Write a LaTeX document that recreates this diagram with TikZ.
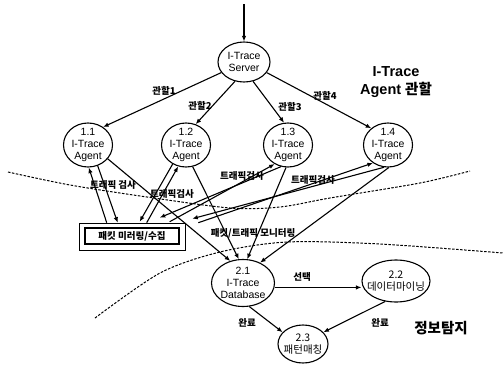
\documentclass[tikz,border=0pt]{standalone}
\usepackage{fontspec}
\setmainfont{Liberation Sans}
\newfontfamily\kr{Noto Sans CJK KR}
\usetikzlibrary{arrows.meta,calc,shapes.geometric}

\begin{document}
\begin{tikzpicture}[>={Latex[length=5.5pt,width=4.5pt]}, x=1pt, y={(0,-1pt)},
    proc/.style={ellipse, draw, line width=1.1pt, inner sep=-1.5pt, align=center,
      font=\fontsize{10.5}{12}\selectfont},
    agent/.style={proc, minimum width=49pt, minimum height=44pt},
    lbl/.style={font=\kr\fontsize{9.5}{10}\selectfont\bfseries, inner sep=1pt},
    flow/.style={->, line width=1.1pt},
    zone/.style={line width=1pt, dash pattern=on 2.5pt off 1.5pt}]

    \useasboundingbox (0,0) rectangle (503,364);

    % server and agents
    \coordinate (in) at (244,4);
    \node[proc, minimum width=52pt, minimum height=40pt] (srv) at (244,62) {I-Trace\\Server};
    \foreach \i/\x in {1/88,2/186,3/288,4/388}{
      \node[agent] (a\i) at (\x,145) {1.\i\\I-Trace\\Agent};
    }

    \draw[flow] (in) -- (srv);
    \foreach \i/\s/\t in {1/205/50, 2/-115/65, 3/-65/100, 4/-25/135}{
      \draw[flow] (srv.\s) -- (a\i.\t);
    }
    \foreach \i/\x/\y in {1/164/91, 2/200/106, 3/290/107, 4/325/96}{
      \node[lbl] at (\x,\y) {관할\i};
    }
    \node[align=center, font=\fontsize{14.5}{18}\selectfont\bfseries] (ttl) at (396,82)
      {I-Trace\\Agent {\kr 관할}};

    % mirroring box
    \node[draw, line width=0.6pt, minimum width=106pt, minimum height=27pt] (frame) at (132,236.5) {};
    \node[draw, line width=1.2pt, minimum width=94pt, minimum height=16pt, inner sep=0pt, lbl] (mirror)
      at (132,236) {패킷 미러링/수집};

    \draw[flow] ([xshift=28pt]frame.north west) -- (a1.-88);
    \draw[flow] (a1.-65) -- ([xshift=39pt]frame.north west);
    \draw[flow] (a2.-125) -- ([xshift=61pt,yshift=1pt]frame.north west);
    \draw[flow] ([xshift=68pt]frame.north west) -- (a2.-110);
    \draw[flow] (a3.-108) -- ([xshift=81pt,yshift=5pt]frame.north west);
    \draw[flow] ([xshift=91pt,yshift=1pt]frame.north west) -- (a3.-125);
    \draw[flow] (a4.-100) -- ([xshift=7pt,yshift=4pt]frame.north east);
    \draw[flow] ([xshift=13pt]frame.north east) -- (a4.-130);

    \node[lbl] at (113,185) {트래픽 검사};
    \node[lbl] at (172,194) {트래픽검사};
    \node[lbl] at (242,176) {트래픽검사};
    \node[lbl] at (313,180) {트래픽검사};

    % detection
    \node[proc, minimum width=63pt, minimum height=47pt] (db) at (243,283) {2.1\\I-Trace\\Database};
    \node[proc, minimum width=68pt, minimum height=42pt, inner xsep=-9pt, inner ysep=3pt,
      font=\kr\fontsize{10.5}{12}\selectfont] (dm) at (396,281) {2.2\\데이터마이닝};
    \node[proc, minimum width=50pt, minimum height=38pt, inner xsep=-4pt, inner ysep=3pt,
      font=\kr\fontsize{10.5}{12}\selectfont] (pm) at (303,344) {2.3\\패턴매칭};

    \draw[flow] (a1.-35) -- (db.120);
    \draw[flow] (a2.-73) -- (db.100);
    \draw[flow] (a3.-95) -- (db.80);
    \draw[flow] (a4.-88) -- (db.50);
    \node[lbl] at (253,233) {패킷/트래픽 모니터링};

    \draw[flow] (db.-8) -- (db.-8 -| dm.west);
    \draw[flow] (db.-75) -- (pm.150);
    \draw[flow] (dm.-118) -- (pm.30);
    \node[lbl] at (302,277) {선택};
    \node[lbl] at (247,323) {완료};
    \node[lbl] at (380,323) {완료};
    \node[lbl, font=\kr\fontsize{14.5}{14}\selectfont\bfseries] at (441,328) {정보탐지};

    % zone borders
    \draw[zone] plot[smooth] coordinates {(8,172) (70,185) (147,197) (230,208) (280,207) (330,198) (420,183) (470,171)};
    \draw[zone] plot[smooth] coordinates {(95,318) (160,273) (220,252) (287,242) (380,244) (503,253)};

\end{tikzpicture}
\end{document}
